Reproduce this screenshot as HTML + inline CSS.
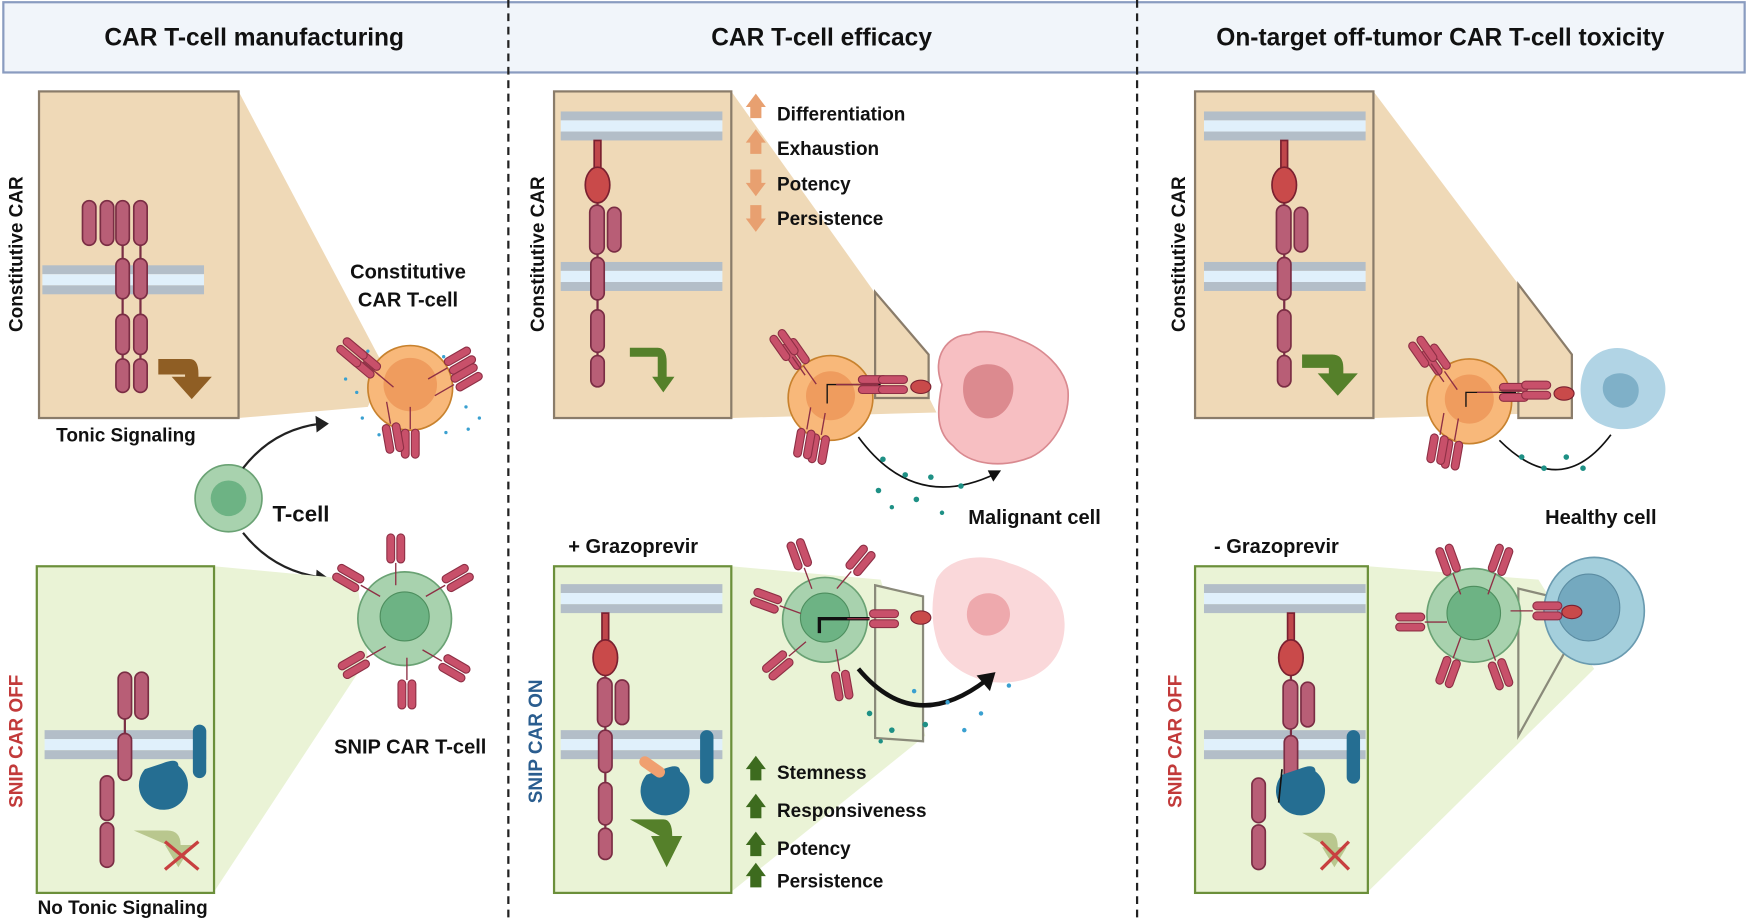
<!DOCTYPE html>
<html><head><meta charset="utf-8"><style>
html,body{margin:0;padding:0;background:#fff;}
svg{display:block;}
text{font-family:"Liberation Sans",sans-serif;font-weight:bold;fill:#111;}
</style></head><body>
<svg width="1748" height="923" viewBox="0 0 1568 828" preserveAspectRatio="none" xmlns="http://www.w3.org/2000/svg">
<defs>
  <g id="mini">
    <rect x="-8" y="-16" width="7" height="26" rx="3.5" fill="#c8506a" stroke="#8e2f45" stroke-width="1"/>
    <rect x="1" y="-16" width="7" height="26" rx="3.5" fill="#c8506a" stroke="#8e2f45" stroke-width="1"/>
    <line x1="0" y1="10" x2="0" y2="30" stroke="#8e2f45" stroke-width="1.2"/>
  </g>
  <g id="memb">
    <rect x="0" y="0" width="145" height="8" fill="#b3bec8"/>
    <rect x="0" y="8" width="145" height="10" fill="#e0f0fb"/>
    <rect x="0" y="18" width="145" height="8" fill="#b3bec8"/>
  </g>
  <g id="rec" stroke="#7a2d44" stroke-width="1.5" fill="#b85e76">
    <line x1="0" y1="0" x2="0" y2="218" stroke-width="2"/>
    <rect x="-3" y="0" width="6" height="30" fill="#c0474b" stroke="#7a2030"/>
    <ellipse cx="0" cy="40" rx="11" ry="16" fill="#c94a4a" stroke="#7a2030"/>
    <rect x="-7" y="58" width="13" height="44" rx="6.5"/>
    <rect x="9" y="60" width="12" height="40" rx="6"/>
    <rect x="-6" y="105" width="12" height="38" rx="6"/>
    <rect x="-6" y="152" width="12" height="38" rx="6"/>
    <rect x="-6" y="193" width="12" height="28" rx="6"/>
  </g>
</defs>

<!-- header -->
<rect x="3" y="2" width="1562" height="63" fill="#f1f5fa" stroke="#8a9cc0" stroke-width="2"/>
<text x="228" y="41" font-size="22" text-anchor="middle">CAR T-cell manufacturing</text>
<text x="737" y="41" font-size="22" text-anchor="middle">CAR T-cell efficacy</text>
<text x="1292" y="41" font-size="22" text-anchor="middle">On-target off-tumor CAR T-cell toxicity</text>
<line x1="456" y1="0" x2="456" y2="828" stroke="#222" stroke-width="2" stroke-dasharray="7,5"/>
<line x1="1020" y1="0" x2="1020" y2="828" stroke="#222" stroke-width="2" stroke-dasharray="7,5"/>

<!-- ===== PANEL 1 ===== -->
<polygon points="214,82 345,330 330,365 214,375" fill="#efd9b7"/>
<rect x="35" y="82" width="179" height="293" fill="#efd9b7" stroke="#8a7c6a" stroke-width="2"/>
<use href="#memb" x="38" y="238"/>
<g stroke="#7a2d44" stroke-width="1.5" fill="#b85e76">
<line x1="110" y1="200" x2="110" y2="345" stroke-width="2"/>
<line x1="126" y1="200" x2="126" y2="345" stroke-width="2"/>
<rect x="74" y="180" width="12" height="40" rx="6"/><rect x="90" y="180" width="12" height="40" rx="6"/>
<rect x="104" y="180" width="12" height="40" rx="6"/><rect x="120" y="180" width="12" height="40" rx="6"/>
<rect x="104" y="232" width="12" height="36" rx="6"/><rect x="120" y="232" width="12" height="36" rx="6"/>
<rect x="104" y="282" width="12" height="36" rx="6"/><rect x="120" y="282" width="12" height="36" rx="6"/>
<rect x="104" y="322" width="12" height="30" rx="6"/><rect x="120" y="322" width="12" height="30" rx="6"/>
</g>
<path d="M142,322 L170,322 Q178,322 178,335 L178,338 L190,338 L172,358 L154,338 L166,338 L166,336 L142,336 Z" fill="#8f5e24"/>
<text transform="translate(20,228) rotate(-90)" font-size="17" text-anchor="middle">Constitutive CAR</text>
<text x="113" y="396" font-size="17" text-anchor="middle">Tonic Signaling</text>
<text x="366" y="250" font-size="18" text-anchor="middle">Constitutive</text>
<text x="366" y="275" font-size="18" text-anchor="middle">CAR T-cell</text>
<g fill="#3aa0d0">
<circle cx="330" cy="315" r="1.5"/><circle cx="345" cy="322" r="1.5"/><circle cx="398" cy="320" r="1.5"/><circle cx="420" cy="330" r="1.5"/><circle cx="320" cy="352" r="1.5"/><circle cx="418" cy="365" r="1.5"/><circle cx="420" cy="385" r="1.5"/><circle cx="340" cy="390" r="1.5"/><circle cx="358" cy="388" r="1.5"/><circle cx="400" cy="388" r="1.5"/><circle cx="430" cy="375" r="1.5"/><circle cx="310" cy="340" r="1.5"/><circle cx="325" cy="375" r="1.5"/>
</g>
<circle cx="368" cy="348" r="38" fill="#f8b87a" stroke="#c8822e" stroke-width="1.5"/>
<circle cx="368" cy="345" r="24" fill="#ef9c5e"/>
<use href="#mini" transform="translate(330,328) rotate(-50)"/>
<use href="#mini" transform="translate(318,318) rotate(-50)"/>
<use href="#mini" transform="translate(410,325) rotate(60)"/>
<use href="#mini" transform="translate(416,340) rotate(60)"/>
<use href="#mini" transform="translate(368,395) rotate(180)"/>
<use href="#mini" transform="translate(352,390) rotate(170)"/>
<circle cx="205" cy="447" r="30" fill="#a8d2ae" stroke="#6aa274" stroke-width="1.5"/>
<circle cx="205" cy="447" r="16" fill="#6db384"/>
<text x="270" y="468" font-size="20" text-anchor="middle">T-cell</text>
<path d="M218,420 Q245,385 288,380" fill="none" stroke="#222" stroke-width="2"/>
<polygon points="295,380 283,373 284,388" fill="#222"/>
<path d="M218,478 Q245,512 288,518" fill="none" stroke="#222" stroke-width="2"/>
<polygon points="295,519 284,511 283,526" fill="#222"/>
<polygon points="192,508 320,520 330,590 192,800" fill="#eaf3d6"/>
<rect x="33" y="508" width="159" height="293" fill="#eaf3d6" stroke="#6b8f3a" stroke-width="2"/>
<circle cx="363" cy="555" r="42" fill="#a8d2ae" stroke="#6aa274" stroke-width="1.5"/>
<circle cx="363" cy="553" r="22" fill="#6db384" stroke="#4d8e5e"/>
<use href="#mini" transform="translate(355,495) rotate(0)"/>
<use href="#mini" transform="translate(408,520) rotate(60)"/>
<use href="#mini" transform="translate(315,520) rotate(-60)"/>
<use href="#mini" transform="translate(320,595) rotate(-120)"/>
<use href="#mini" transform="translate(405,598) rotate(120)"/>
<use href="#mini" transform="translate(365,620) rotate(180)"/>
<use href="#memb" x="40" y="655"/>
<g stroke="#7a2d44" stroke-width="1.5" fill="#b85e76">
<line x1="112" y1="610" x2="112" y2="700" stroke-width="2"/>
<rect x="106" y="603" width="12" height="42" rx="6"/><rect x="121" y="603" width="12" height="42" rx="6"/>
<rect x="106" y="658" width="12" height="42" rx="6"/>
<rect x="90" y="696" width="12" height="40" rx="6"/><rect x="90" y="738" width="12" height="40" rx="6"/>
</g>
<rect x="173" y="650" width="12" height="48" rx="6" fill="#256e92"/>
<path d="M130,690 a22,22 0 1,0 30,-3 q0,-8 -15,-2 z" fill="#256e92"/>
<path d="M120,745 L150,745 Q162,745 162,758 L172,758 L160,778 L148,758 L150,758 Z" fill="#b9c78e"/>
<path d="M148,755 L178,780 M178,755 L148,780" stroke="#c84040" stroke-width="3"/>
<text transform="translate(20,665) rotate(-90)" font-size="17" text-anchor="middle" style="fill:#c23a3a">SNIP CAR OFF</text>
<text x="110" y="820" font-size="17" text-anchor="middle">No Tonic Signaling</text>
<text x="368" y="676" font-size="18" text-anchor="middle">SNIP CAR T-cell</text>

<!-- ===== PANEL 2 ===== -->
<polygon points="656,82 790,270 840,370 656,375" fill="#efd9b7"/>
<rect x="497" y="82" width="159" height="293" fill="#efd9b7" stroke="#8a7c6a" stroke-width="2"/>
<use href="#memb" x="503" y="100"/>
<use href="#memb" x="503" y="235"/>
<use href="#rec" x="536" y="126"/>
<path d="M565,312 L590,312 Q598,312 598,325 L598,338 L605,338 L595,352 L585,338 L590,338 L590,320 L565,320 Z" fill="#55802a"/>
<text transform="translate(488,228) rotate(-90)" font-size="17" text-anchor="middle">Constitutive CAR</text>
<g fill="#e8a070">
<path d="M673,106 L673,96 L669,96 L678,84 L687,96 L683,96 L683,106 Z"/>
<path d="M673,138 L673,128 L669,128 L678,116 L687,128 L683,128 L683,138 Z"/>
<path d="M673,152 L673,164 L669,164 L678,176 L687,164 L683,164 L683,152 Z"/>
<path d="M673,184 L673,196 L669,196 L678,208 L687,196 L683,196 L683,184 Z"/>
</g>
<text x="697" y="108" font-size="17">Differentiation</text>
<text x="697" y="139" font-size="17">Exhaustion</text>
<text x="697" y="171" font-size="17">Potency</text>
<text x="697" y="202" font-size="17">Persistence</text>
<polygon points="785,262 833,318 833,357 785,357" fill="#efd9b7" stroke="#8a7c6a" stroke-width="2"/>
<path d="M845,345 C835,320 850,300 870,300 C880,295 900,298 915,305 C935,312 955,330 958,350 C960,375 945,400 925,410 C900,420 870,418 855,400 C840,388 840,370 845,345 Z" fill="#f7bfc2" stroke="#d98a90" stroke-width="1.5"/>
<path d="M865,340 C870,325 895,322 905,335 C915,350 905,372 890,375 C872,378 860,360 865,340 Z" fill="#dc8a8f"/>
<circle cx="745" cy="357" r="38" fill="#f8b87a" stroke="#c8822e" stroke-width="1.5"/>
<circle cx="745" cy="355" r="22" fill="#ef9c5e"/>
<path d="M790,345 L742,345 L742,362" stroke="#111" stroke-width="1.2" fill="none"/>
<use href="#mini" transform="translate(780,345) rotate(90)"/>
<use href="#mini" transform="translate(798,345) rotate(90)"/>
<ellipse cx="826" cy="347" rx="9" ry="6" fill="#c94a4a" stroke="#7a2030"/>
<use href="#mini" transform="translate(715,320) rotate(-35)"/>
<use href="#mini" transform="translate(705,312) rotate(-35)"/>
<use href="#mini" transform="translate(735,400) rotate(190)"/>
<use href="#mini" transform="translate(722,395) rotate(190)"/>
<path d="M770,392 Q820,460 893,425" fill="none" stroke="#111" stroke-width="1.5"/>
<polygon points="898,422 886,422 891,432" fill="#111"/>
<g fill="#1e9085"><circle cx="792" cy="412" r="2.5"/><circle cx="812" cy="426" r="2.5"/><circle cx="835" cy="428" r="2.5"/><circle cx="788" cy="440" r="2.5"/><circle cx="822" cy="448" r="2.5"/><circle cx="862" cy="436" r="2.5"/><circle cx="800" cy="455" r="2"/><circle cx="845" cy="460" r="2"/></g>
<text x="928" y="470" font-size="18" text-anchor="middle">Malignant cell</text>
<text x="568" y="496" font-size="18" text-anchor="middle">+ Grazoprevir</text>
<polygon points="656,508 790,520 830,660 656,800" fill="#eaf3d6"/>
<rect x="497" y="508" width="159" height="293" fill="#eaf3d6" stroke="#6b8f3a" stroke-width="2"/>
<use href="#memb" x="503" y="524"/>
<use href="#memb" x="503" y="655"/>
<use href="#rec" x="543" y="550"/>
<rect x="628" y="655" width="12" height="48" rx="6" fill="#256e92"/>
<path d="M580,695 a22,22 0 1,0 30,-3 q0,-8 -15,-2 z" fill="#256e92"/>
<rect x="572" y="683" width="26" height="10" rx="5" transform="rotate(35 585 688)" fill="#f0a070"/>
<path d="M565,735 L595,735 Q603,735 603,750 L612,750 L598,778 L584,750 L592,750 Z" fill="#55802a"/>
<text transform="translate(486,665) rotate(-90)" font-size="17" text-anchor="middle" style="fill:#2a5d8f">SNIP CAR ON</text>
<polygon points="785,525 828,535 828,665 785,662" fill="#eaf3d6" stroke="#8a8a7a" stroke-width="2"/>
<path d="M840,520 C850,500 880,495 905,505 C930,512 955,530 955,560 C955,590 935,610 905,612 C880,615 850,600 842,580 C835,560 835,540 840,520 Z" fill="#f9d4d6" opacity="0.9"/>
<path d="M870,540 C880,528 900,530 905,545 C910,560 895,572 882,570 C868,566 864,552 870,540 Z" fill="#eea9ad"/>
<circle cx="740" cy="556" r="38" fill="#a8d2ae" stroke="#6aa274" stroke-width="1.5"/>
<circle cx="740" cy="554" r="22" fill="#6db384" stroke="#4d8e5e"/>
<path d="M780,555 L735,555 L735,568" stroke="#111" stroke-width="3" fill="none"/>
<use href="#mini" transform="translate(790,555) rotate(90)"/>
<ellipse cx="826" cy="554" rx="9" ry="6" fill="#c94a4a" stroke="#7a2030"/>
<use href="#mini" transform="translate(718,500) rotate(-20)"/>
<use href="#mini" transform="translate(770,505) rotate(40)"/>
<use href="#mini" transform="translate(690,540) rotate(-70)"/>
<use href="#mini" transform="translate(700,595) rotate(-130)"/>
<use href="#mini" transform="translate(755,612) rotate(170)"/>
<path d="M770,600 Q820,660 885,610" fill="none" stroke="#111" stroke-width="4"/>
<polygon points="893,603 876,606 888,620" fill="#111"/>
<g fill="#1e9085"><circle cx="780" cy="640" r="2.5"/><circle cx="800" cy="655" r="2.5"/><circle cx="830" cy="650" r="2.5"/><circle cx="790" cy="665" r="2"/></g>
<g fill="#3aa0d0"><circle cx="850" cy="630" r="2"/><circle cx="880" cy="640" r="2"/><circle cx="905" cy="615" r="2"/><circle cx="865" cy="655" r="2"/><circle cx="820" cy="620" r="2"/></g>
<g fill="#3d6b1e">
<path d="M673,700 L673,690 L669,690 L678,678 L687,690 L683,690 L683,700 Z"/>
<path d="M673,734 L673,724 L669,724 L678,712 L687,724 L683,724 L683,734 Z"/>
<path d="M673,768 L673,758 L669,758 L678,746 L687,758 L683,758 L683,768 Z"/>
<path d="M673,796 L673,786 L669,786 L678,774 L687,786 L683,786 L683,796 Z"/>
</g>
<text x="697" y="699" font-size="17">Stemness</text>
<text x="697" y="733" font-size="17">Responsiveness</text>
<text x="697" y="767" font-size="17">Potency</text>
<text x="697" y="796" font-size="17">Persistence</text>

<!-- ===== PANEL 3 ===== -->
<polygon points="1232,82 1362,255 1410,370 1232,375" fill="#efd9b7"/>
<rect x="1072" y="82" width="160" height="293" fill="#efd9b7" stroke="#8a7c6a" stroke-width="2"/>
<use href="#memb" x="1080" y="100"/>
<use href="#memb" x="1080" y="235"/>
<use href="#rec" x="1152" y="126"/>
<path d="M1168,318 L1195,318 Q1205,318 1205,330 L1205,335 L1218,335 L1200,355 L1182,335 L1192,335 L1192,330 L1168,330 Z" fill="#55802a"/>
<text transform="translate(1063,228) rotate(-90)" font-size="17" text-anchor="middle">Constitutive CAR</text>
<polygon points="1362,255 1410,318 1410,375 1362,375" fill="#efd9b7" stroke="#8a7c6a" stroke-width="2"/>
<path d="M1420,335 C1425,315 1450,305 1470,318 C1490,325 1500,345 1490,365 C1480,385 1455,390 1435,380 C1418,372 1415,350 1420,335 Z" fill="#a9cfe2" opacity="0.9"/>
<path d="M1440,340 C1450,330 1470,335 1470,350 C1470,365 1455,370 1445,362 C1437,356 1436,347 1440,340 Z" fill="#7fb0c8"/>
<circle cx="1318" cy="360" r="38" fill="#f8b87a" stroke="#c8822e" stroke-width="1.5"/>
<circle cx="1318" cy="358" r="22" fill="#ef9c5e"/>
<path d="M1360,352 L1315,352 L1315,365" stroke="#111" stroke-width="1.2" fill="none"/>
<use href="#mini" transform="translate(1355,352) rotate(90)"/>
<use href="#mini" transform="translate(1375,350) rotate(90)"/>
<ellipse cx="1403" cy="353" rx="9" ry="6" fill="#c94a4a" stroke="#7a2030"/>
<use href="#mini" transform="translate(1290,325) rotate(-35)"/>
<use href="#mini" transform="translate(1278,318) rotate(-35)"/>
<use href="#mini" transform="translate(1303,405) rotate(190)"/>
<use href="#mini" transform="translate(1290,400) rotate(190)"/>
<path d="M1345,395 Q1400,450 1445,390" fill="none" stroke="#111" stroke-width="1.5"/>
<g fill="#1e9085"><circle cx="1365" cy="410" r="2.5"/><circle cx="1385" cy="420" r="2.5"/><circle cx="1405" cy="410" r="2.5"/><circle cx="1420" cy="420" r="2.5"/></g>
<text x="1436" y="470" font-size="18" text-anchor="middle">Healthy cell</text>
<text x="1145" y="496" font-size="18" text-anchor="middle">- Grazoprevir</text>
<polygon points="1227,508 1380,520 1430,600 1227,800" fill="#eaf3d6"/>
<rect x="1072" y="508" width="155" height="293" fill="#eaf3d6" stroke="#6b8f3a" stroke-width="2"/>
<use href="#memb" x="1080" y="524"/>
<use href="#memb" x="1080" y="655"/>
<g stroke="#7a2d44" stroke-width="1.5" fill="#b85e76">
<line x1="1158" y1="550" x2="1158" y2="700" stroke-width="2"/>
<rect x="1155" y="550" width="6" height="30" fill="#c0474b" stroke="#7a2030"/>
<ellipse cx="1158" cy="590" rx="11" ry="16" fill="#c94a4a" stroke="#7a2030"/>
<rect x="1151" y="610" width="13" height="44" rx="6.5"/><rect x="1167" y="612" width="12" height="40" rx="6"/>
<rect x="1152" y="660" width="12" height="40" rx="6"/>
<rect x="1123" y="698" width="12" height="40" rx="6"/><rect x="1123" y="740" width="12" height="40" rx="6"/>
</g>
<rect x="1208" y="655" width="12" height="48" rx="6" fill="#256e92"/>
<path d="M1150,695 a22,22 0 1,0 30,-3 q0,-8 -15,-2 z" fill="#256e92"/>
<line x1="1150" y1="690" x2="1147" y2="720" stroke="#111" stroke-width="1.5"/>
<path d="M1168,747 L1192,747 Q1200,747 1200,760 L1208,760 L1197,778 L1186,760 L1192,760 Z" fill="#b9c78e"/>
<path d="M1185,755 L1210,780 M1210,755 L1185,780" stroke="#c84040" stroke-width="3"/>
<text transform="translate(1060,665) rotate(-90)" font-size="17" text-anchor="middle" style="fill:#c23a3a">SNIP CAR OFF</text>
<polygon points="1362,528 1412,540 1412,570 1362,660" fill="#eaf3d6" stroke="#8a8a7a" stroke-width="2"/>
<ellipse cx="1430" cy="548" rx="45" ry="48" fill="#a4cfdc" stroke="#6a9bb0" stroke-width="1.5"/>
<ellipse cx="1425" cy="545" rx="28" ry="30" fill="#74a9bf" stroke="#5b8ca2"/>
<circle cx="1322" cy="552" r="42" fill="#a8d2ae" stroke="#6aa274" stroke-width="1.5"/>
<circle cx="1322" cy="550" r="24" fill="#6db384" stroke="#4d8e5e"/>
<use href="#mini" transform="translate(1385,548) rotate(90)"/>
<ellipse cx="1410" cy="549" rx="9" ry="6" fill="#c94a4a" stroke="#7a2030"/>
<use href="#mini" transform="translate(1300,505) rotate(-20)"/>
<use href="#mini" transform="translate(1345,505) rotate(20)"/>
<use href="#mini" transform="translate(1268,558) rotate(-90)"/>
<use href="#mini" transform="translate(1300,600) rotate(-160)"/>
<use href="#mini" transform="translate(1345,602) rotate(160)"/>
</svg>
</body></html>
